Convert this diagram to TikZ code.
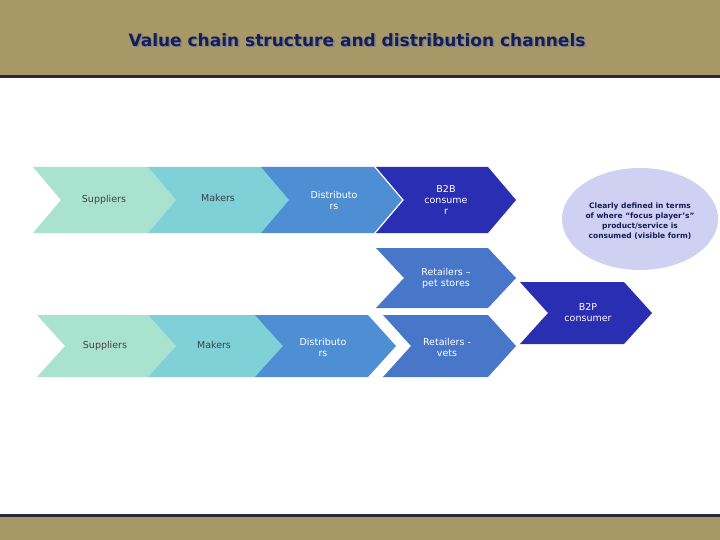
\documentclass[tikz,border=0pt]{standalone}
\usepackage{fontspec}
\usetikzlibrary{shapes.geometric}
\setmainfont{DejaVu Sans}
\newcommand\mychev[7]{%
  \fill[#6] (#2,#4) -- (#3-28,#4) -- (#3,{(#4+#5)/2}) -- (#3-28,#5) -- (#2,#5) -- (#2+28,{(#4+#5)/2}) -- cycle;
  \node[lbl,#7] (#1) at ({(#2+#3)/2+2},{(#4+#5)/2}) {};}
\begin{document}
\begin{tikzpicture}[x=1pt,y=-1pt,
  lbl/.style={align=center,font=\fontsize{9.5}{11}\selectfont,text=white}]
\useasboundingbox (0,0) rectangle (720,540);
\fill[white] (0,0) rectangle (720,540);
\fill[color={rgb,255:red,168;green,152;blue,104}] (0,0) rectangle (720,76);
\fill[color={rgb,255:red,40;green,40;blue,60}] (0,75) rectangle (720,78);
\fill[color={rgb,255:red,168;green,152;blue,104}] (0,516) rectangle (720,540);
\fill[color={rgb,255:red,40;green,40;blue,60}] (0,514) rectangle (720,517);
\node[font=\bfseries\fontsize{17}{20}\selectfont,text=black!50] at (358.5,41.5) {Value chain structure and distribution channels};
\node[font=\bfseries\fontsize{17}{20}\selectfont,text={rgb,255:red,20;green,30;blue,90}] (title) at (357,40) {Value chain structure and distribution channels};
\colorlet{mint}{rgb,255:red,170;green,226;blue,208}
\colorlet{cyanb}{rgb,255:red,128;green,208;blue,216}
\colorlet{midb}{rgb,255:red,78;green,142;blue,210}
\colorlet{retb}{rgb,255:red,72;green,118;blue,200}
\colorlet{darkb}{rgb,255:red,42;green,46;blue,178}
\mychev{s1}{33}{176}{167}{233}{mint}{text=darkgray}
\node[lbl,text=darkgray] at (104,200) {Suppliers};
\mychev{m1}{148}{289}{167}{233}{cyanb}{}
\node[lbl,text=darkgray] at (218,198) {Makers};
\mychev{d1}{261}{402}{167}{233}{midb}{}
\node[lbl] at (334,200) {Distributo\\rs};
\mychev{b2b}{376}{516}{167}{233}{darkb}{}
\node[lbl] at (446,200) {B2B\\consume\\r};
\mychev{pet}{376}{516}{248}{308}{retb}{}
\node[lbl] at (446,278) {Retailers –\\pet stores};
\mychev{b2p}{520}{652}{282}{344}{darkb}{}
\node[lbl] at (588,313) {B2P\\consumer};
\mychev{s2}{37}{176}{315}{377}{mint}{}
\node[lbl,text=darkgray] at (105,346) {Suppliers};
\mychev{m2}{148}{286}{315}{377}{cyanb}{}
\node[lbl,text=darkgray] at (214,345) {Makers};
\mychev{d2}{255}{396}{315}{377}{midb}{}
\node[lbl] at (323,347) {Distributo\\rs};
\mychev{v}{383}{516}{315}{377}{retb}{}
\node[lbl] at (447,347) {Retailers -\\vets};
\node[ellipse,fill={rgb,255:red,208;green,208;blue,242},minimum width=156,minimum height=102,inner sep=0] (ell) at (640,219) {};
\node[align=center,font=\bfseries\fontsize{7.5}{10}\selectfont,text={rgb,255:red,20;green,30;blue,90}] (elltext) at (640,221) {Clearly defined in terms\\of where ``focus player’s''\\product/service is\\consumed (visible form)};
\end{tikzpicture}
\end{document}
